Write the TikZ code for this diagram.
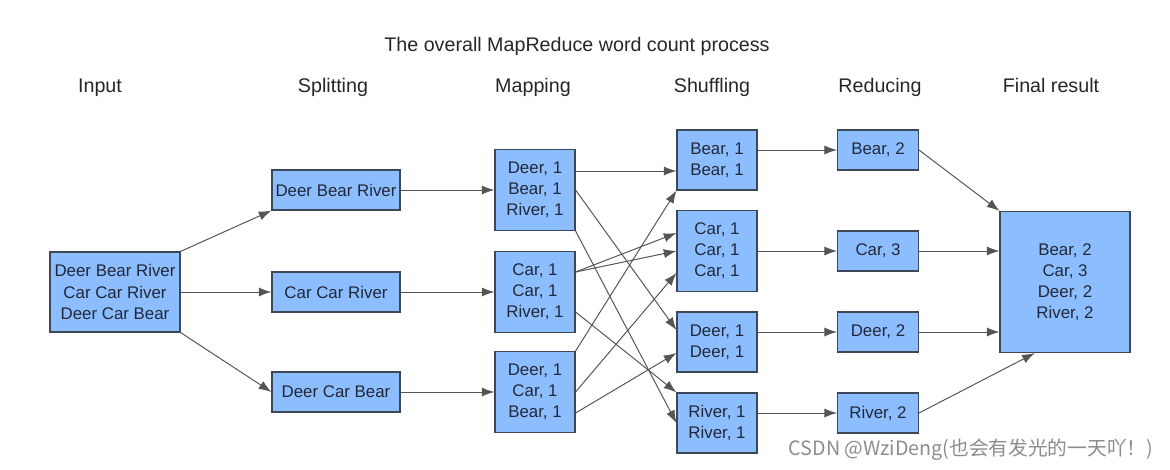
\documentclass[tikz,border=0pt]{standalone}
\usepackage{fontspec}
\setmainfont{Liberation Sans}
\newfontfamily\cjk{Noto Sans CJK SC}
\usepackage{xcolor}
\usetikzlibrary{arrows.meta, positioning, calc}

\definecolor{boxfill}{RGB}{140,190,255}
\definecolor{boxline}{RGB}{60,72,88}
\definecolor{arrline}{RGB}{85,85,85}
\definecolor{txt}{RGB}{34,40,56}

\tikzset{
  box/.style={draw=boxline, line width=0.8pt, fill=boxfill, text=txt,
    align=center, inner sep=0pt, font=\fontsize{12}{15}\selectfont},
  head/.style={text=black!85, anchor=base, font=\fontsize{14}{17}\selectfont},
  arr/.style={-{Latex[length=9pt,width=6.5pt]}, draw=arrline, line width=0.7pt},
}

\begin{document}
\begin{tikzpicture}[x=0.025cm, y=-0.025cm]
\useasboundingbox (0,0) rectangle (1170,469);

% titles
\node (T) [head] at (577,51) {The overall MapReduce word count process};
\node (hIn) [head] at (100,92) {Input};
\node (hSp) [head] at (333,92) {Splitting};
\node (hMp) [head] at (533,92) {Mapping};
\node (hSh) [head] at (712,92) {Shuffling};
\node (hRd) [head] at (880,92) {Reducing};
\node (hF) [head] at (1051,92) {Final result};

% input and splitting
\node (In) [box, minimum width=3.25cm, minimum height=2cm] at (115,292)
  {Deer Bear River\\Car Car River\\Deer Car Bear};
\node (S1) [box, minimum width=3.2cm, minimum height=1cm] at (336,190) {Deer Bear River};
\node (S2) [box, minimum width=3.2cm, minimum height=1cm] at (336,292) {Car Car River};
\node (S3) [box, minimum width=3.2cm, minimum height=1cm] at (336,392) {Deer Car Bear};

% mapping
\node (M1) [box, minimum width=2cm, minimum height=2.02cm] at (535,190) {Deer, 1\\Bear, 1\\River, 1};
\node (M2) [box, minimum width=2cm, minimum height=2.02cm] at (535,292) {Car, 1\\Car, 1\\River, 1};
\node (M3) [box, minimum width=2cm, minimum height=2.02cm] at (535,392) {Deer, 1\\Car, 1\\Bear, 1};

% shuffling
\node (Sh1) [box, minimum width=2cm, minimum height=1.5cm] at (717,160) {Bear, 1\\Bear, 1};
\node (Sh2) [box, minimum width=2cm, minimum height=2.02cm] at (717,251) {Car, 1\\Car, 1\\Car, 1};
\node (Sh3) [box, minimum width=2cm, minimum height=1.5cm] at (717,342) {Deer, 1\\Deer, 1};
\node (Sh4) [box, minimum width=2cm, minimum height=1.5cm] at (717,423) {River, 1\\River, 1};

% reducing
\node (R1) [box, minimum width=2.02cm, minimum height=1cm] at (878,150) {Bear, 2};
\node (R2) [box, minimum width=2.02cm, minimum height=1cm] at (878,251) {Car, 3};
\node (R3) [box, minimum width=2.02cm, minimum height=1cm] at (878,332) {Deer, 2};
\node (R4) [box, minimum width=2.02cm, minimum height=1cm] at (878,413) {River, 2};

% final result
\node (F) [box, minimum width=3.25cm, minimum height=3.525cm] at (1065,282)
  {Bear, 2\\Car, 3\\Deer, 2\\River, 2};

\node (wm) [text=black!45, font=\cjk\fontsize{14}{16}\selectfont, anchor=east] at (1158,450)
  {CSDN @WziDeng(也会有发光的一天吖！)};

% input -> splitting -> mapping
\draw[arr] (In.north east) -- (S1.south west);
\draw[arr] (In.east) -- (S2.west);
\draw[arr] (In.south east) -- (S3.west);
\draw[arr] (S1) -- (M1);
\draw[arr] (S2) -- (M2);
\draw[arr] (S3) -- (M3);

% mapping -> shuffling
\draw[arr] ([yshift=.475cm]M1.east) -- ([yshift=.475cm]M1.east -| Sh1.west);
\draw[arr] (M1.east) -- ([yshift=.3cm]Sh3.west);
\draw[arr] (M1.south east) -- (Sh4.west);
\draw[arr] ([yshift=.5cm]M2.east) -- ([yshift=.45cm]Sh2.west);
\draw[arr] ([yshift=.5cm]M2.east) -- (Sh2.west);
\draw[arr] ([yshift=-.5cm]M2.east) -- (Sh4.north west);
\draw[arr] (M3.north east) -- (Sh1.south west);
\draw[arr] (M3.east) -- ([yshift=-.55cm]Sh2.west);
\draw[arr] ([yshift=-.525cm]M3.east) -- ([yshift=-.275cm]Sh3.west);

% shuffling -> reducing -> final
\draw[arr] (Sh1.east |- R1) -- (R1);
\draw[arr] (Sh2.east |- R2) -- (R2);
\draw[arr] (Sh3.east |- R3) -- (R3);
\draw[arr] (Sh4.east |- R4) -- (R4);
\draw[arr] (R1.east) -- (F.north west);
\draw[arr] (R2.east) -- (F.west |- R2);
\draw[arr] (R3.east) -- (F.west |- R3);
\draw[arr] (R4.east) -- (F.247);
\end{tikzpicture}
\end{document}
